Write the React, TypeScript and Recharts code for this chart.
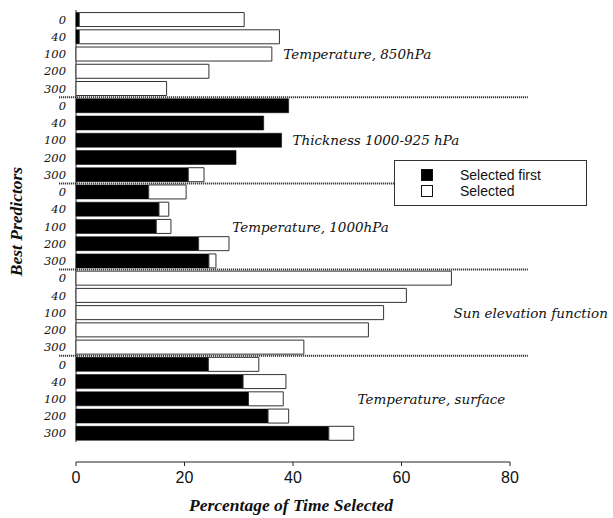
import React from 'react';
import {
  BarChart, Bar, XAxis, YAxis, Legend, ReferenceArea, ReferenceDot
} from 'recharts';

const leads = ['0', '40', '100', '200', '300'];
const groups = [
  'Temperature, 850hPa',
  'Thickness 1000-925 hPa',
  'Temperature, 1000hPa',
  'Sun elevation function',
  'Temperature, surface',
];

// percentage of time selected first / selected at all, per lead
const t850First = [0.6, 0.6, 0, 0, 0];
const t850Sel = [31.0, 37.5, 36.1, 24.5, 16.7];
const thickFirst = [39.2, 34.6, 37.9, 29.5, 20.7];
const thickSel = [39.2, 34.6, 37.9, 29.5, 23.6];
const t1000First = [13.4, 15.3, 14.8, 22.6, 24.5];
const t1000Sel = [20.3, 17.1, 17.5, 28.2, 25.8];
const sunFirst = [0, 0, 0, 0, 0];
const sunSel = [69.2, 60.9, 56.7, 53.9, 42.0];
const sfcFirst = [24.4, 30.8, 31.8, 35.4, 46.6];
const sfcSel = [33.7, 38.7, 38.2, 39.2, 51.2];

const xTicks = [0, 20, 40, 60, 80];

// where the group names start, in axis units
const groupLabelX = [38.2, 39.9, 28.8, 69.6, 51.9];

const firsts = [t850First, thickFirst, t1000First, sunFirst, sfcFirst];
const sels = [t850Sel, thickSel, t1000Sel, sunSel, sfcSel];

const rows = groups.flatMap((_, gi) =>
  leads.map((lead, li) => ({
    key: `g${gi}-${lead}`,
    lead,
    first: firsts[gi][li],
    rest: Math.max(0, sels[gi][li] - firsts[gi][li]),
  }))
);

const serif = '"DejaVu Serif", serif';
const titleFont = '"Liberation Serif", "Times New Roman", serif';
const sans = '"Liberation Sans", Arial, sans-serif';

const Separator = (p: any) => (
  <line
    x1={p.x} x2={p.x + p.width}
    y1={p.y + p.height} y2={p.y + p.height}
    stroke="#111" strokeWidth={2} strokeDasharray="1 1"
  />
);

const LeftLine = (p: any) => (
  <line x1={p.x} x2={p.x} y1={p.y - 1} y2={p.y + p.height} stroke="#222" strokeWidth={1} />
);

const groupLabel = (text: string) => (lp: any) => {
  const vb = lp.viewBox || {};
  return (
    <text x={vb.x} y={vb.y} dominantBaseline="central" fontFamily={serif}
      fontStyle="italic" fontSize={13.5} fill="#111">
      {text}
    </text>
  );
};

const XTitle = (lp: any) => {
  const vb = lp.viewBox || {};
  return (
    <text x={vb.x + vb.width / 2 - 2} y={vb.y + 49} textAnchor="middle" fontFamily={titleFont}
      fontStyle="italic" fontWeight="bold" fontSize={17.5} fill="#111">
      Percentage of Time Selected
    </text>
  );
};

const YTitle = (lp: any) => {
  const vb = lp.viewBox || {};
  const cx = vb.x + 0;
  const cy = vb.y + vb.height / 2 - 15;
  return (
    <text x={cx} y={cy} textAnchor="middle" dominantBaseline="central"
      transform={`rotate(-90 ${cx} ${cy})`} fontFamily={titleFont}
      fontStyle="italic" fontWeight="bold" fontSize={17.5} fill="#111">
      Best Predictors
    </text>
  );
};

const LegendBox = () => (
  <div style={{
    boxSizing: 'border-box', width: '100%', height: '100%',
    border: '1px solid #333', background: '#fff', paddingTop: 6,
    fontFamily: sans, fontSize: 14, color: '#111'
  }}>
    {[{ name: 'Selected first', fill: '#000' }, { name: 'Selected', fill: '#fff' }].map(it => (
      <div key={it.name} style={{ display: 'flex', alignItems: 'center', height: 16 }}>
        <span style={{
          display: 'inline-block', width: 10, height: 10, marginLeft: 26,
          background: it.fill, border: '1px solid #111'
        }} />
        <span style={{ marginLeft: 27 }}>{it.name}</span>
      </div>
    ))}
  </div>
);

export default function App() {
  return (
    <div style={{ position: 'absolute', left: 0, top: 0, width: 613, height: 518, background: '#fff' }}>
      <BarChart
        width={613}
        height={518}
        data={rows}
        layout="vertical"
        barCategoryGap="9%"
        margin={{ top: 11, right: 103, left: 16, bottom: 6 }}
      >
        <XAxis
          type="number"
          domain={[0, 80]}
          ticks={xTicks}
          tickSize={4}
          tickMargin={6}
          stroke="#222"
          axisLine={{ stroke: '#222' }}
          tickLine={{ stroke: '#222' }}
          tick={{ fontFamily: sans, fontSize: 16, fill: '#111' }}
          height={50}
          label={{ content: XTitle }}
        />
        <YAxis
          type="category"
          dataKey="key"
          width={60}
          interval={0}
          axisLine={false}
          tickLine={false}
          tickSize={0}
          tickMargin={10}
          padding={{ top: 0, bottom: 20 }}
          tickFormatter={(k: string) => k.split('-')[1]}
          tick={{ fontFamily: serif, fontStyle: 'italic', fontSize: 11.5, fill: '#111' }}
          label={{ content: YTitle }}
        />
        <Legend
          layout="vertical"
          align="center"
          verticalAlign="middle"
          content={LegendBox}
          wrapperStyle={{ position: 'absolute', left: 394, top: 160, width: 193, height: 46 }}
        />
        <Bar dataKey="first" name="Selected first" stackId="a" fill="#000" stroke="#000"
          strokeWidth={0.5} isAnimationActive={false} />
        <Bar dataKey="rest" name="Selected" stackId="a" fill="#fff" stroke="#333"
          strokeWidth={1} isAnimationActive={false} />
        <ReferenceArea
          x1={0} x2={80} y1="g0-0" y2="g4-300"
          ifOverflow="visible" shape={LeftLine}
        />
        {[0, 1, 2, 3].map(gi => (
          <ReferenceArea
            key={`sep${gi}`}
            x1={-3.1} x2={83.3}
            y1={`g${gi}-300`} y2={`g${gi}-300`}
            ifOverflow="visible"
            shape={Separator}
          />
        ))}
        {groups.map((g, gi) => (
          <ReferenceDot
            key={`lab${gi}`}
            x={groupLabelX[gi]}
            y={`g${gi}-100`}
            r={0}
            ifOverflow="visible"
            label={{ content: groupLabel(g) }}
          />
        ))}
      </BarChart>
    </div>
  );
}
